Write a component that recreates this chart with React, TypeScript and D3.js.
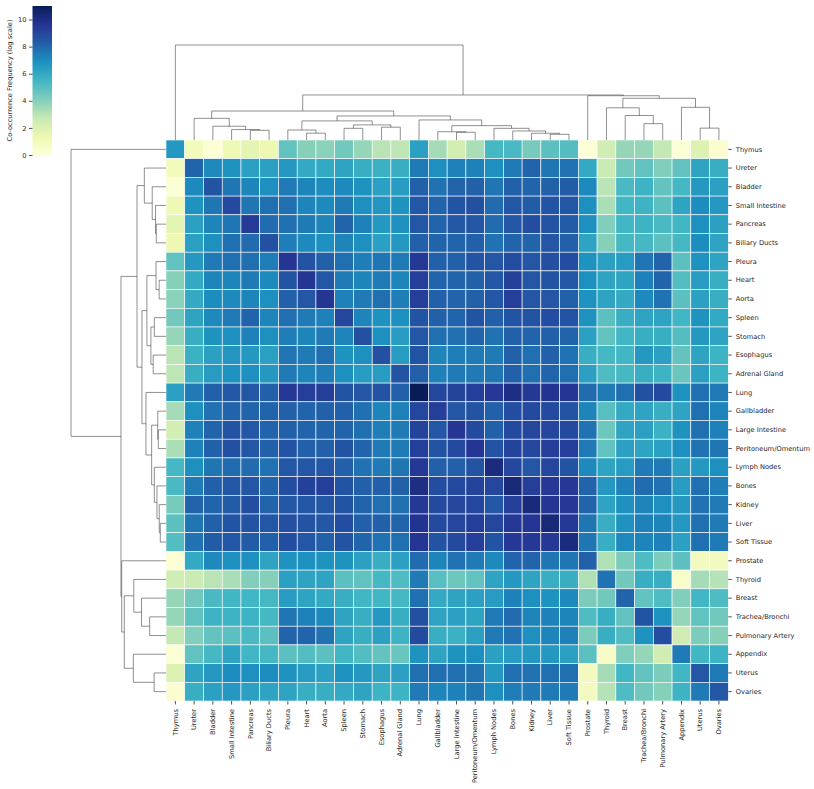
import { useRef, useEffect } from 'react';
import * as d3 from 'd3';

// leaf order after clustering (same for rows and columns)
const sites = [
  'Thymus', 'Ureter', 'Bladder', 'Small Intestine', 'Pancreas', 'Biliary Ducts',
  'Pleura', 'Heart', 'Aorta', 'Spleen', 'Stomach', 'Esophagus', 'Adrenal Gland',
  'Lung', 'Gallbladder', 'Large Intestine', 'Peritoneum/Omentum', 'Lymph Nodes',
  'Bones', 'Kidney', 'Liver', 'Soft Tissue', 'Prostate', 'Thyroid', 'Breast',
  'Trachea/Bronchi', 'Pulmonary Artery', 'Appendix', 'Uterus', 'Ovaries',
];

// log co-occurrence, upper triangle: row i holds columns i..29
const upper: number[][] = [
  [6.6, 1.0, 0.2, 1.2, 1.7, 1.3, 4.8, 4.0, 3.9, 4.4, 3.7, 3.0, 2.9, 6.3, 3.4, 2.3, 3.3, 5.4, 5.3, 4.3, 4.9, 5.1, 0.2, 2.4, 3.7, 3.7, 2.8, 0.2, 2.0, 0.3],
  [8.1, 7.1, 6.8, 6.3, 6.3, 6.6, 6.0, 6.0, 6.2, 5.8, 5.7, 5.8, 7.5, 6.9, 7.3, 7.3, 6.9, 7.5, 8.1, 7.6, 7.7, 6.0, 2.6, 4.4, 4.8, 4.1, 4.8, 6.2, 5.8],
  [8.6, 7.6, 7.2, 6.9, 7.5, 7.2, 7.0, 7.1, 6.8, 6.3, 6.5, 8.2, 7.7, 8.1, 8.2, 7.6, 8.2, 8.1, 8.2, 8.3, 7.1, 3.0, 5.3, 5.6, 4.7, 5.4, 6.6, 6.3],
  [8.9, 7.6, 7.8, 7.8, 7.2, 7.1, 7.5, 6.9, 6.7, 6.8, 8.5, 8.1, 8.6, 8.7, 7.9, 8.5, 8.3, 8.6, 8.5, 6.9, 3.3, 5.5, 5.6, 4.9, 6.2, 7.0, 6.6],
  [9.4, 7.9, 7.8, 7.5, 7.2, 8.1, 7.3, 6.6, 6.9, 8.5, 8.1, 8.5, 8.5, 7.9, 8.5, 8.8, 8.6, 8.3, 6.9, 4.1, 5.5, 5.6, 5.3, 5.5, 6.9, 6.3],
  [8.7, 7.4, 7.1, 6.9, 7.2, 6.9, 6.3, 6.6, 8.2, 8.1, 8.1, 8.2, 7.7, 8.1, 8.1, 8.5, 8.2, 6.2, 4.0, 5.4, 5.4, 4.9, 5.4, 7.0, 6.2],
  [9.6, 8.6, 8.2, 7.8, 7.4, 7.6, 7.5, 9.5, 8.2, 8.2, 8.6, 8.5, 8.8, 8.5, 8.7, 8.8, 6.8, 6.3, 6.5, 7.6, 8.1, 4.9, 6.8, 6.2],
  [9.6, 8.5, 7.5, 7.2, 7.5, 7.2, 9.3, 8.1, 8.1, 8.2, 8.5, 9.2, 8.5, 8.6, 8.5, 6.9, 6.2, 6.2, 7.3, 8.1, 5.1, 6.5, 5.8],
  [9.6, 7.3, 7.5, 7.8, 7.4, 9.3, 8.2, 8.1, 8.2, 8.5, 9.3, 8.5, 8.5, 8.2, 6.8, 6.2, 6.0, 7.1, 7.7, 4.9, 6.3, 5.8],
  [9.0, 7.2, 6.8, 6.9, 8.6, 8.2, 8.1, 8.6, 8.2, 8.6, 8.6, 8.8, 8.6, 6.8, 4.9, 5.8, 6.2, 6.2, 5.5, 6.8, 6.0],
  [8.7, 6.9, 6.5, 8.5, 7.8, 7.8, 8.1, 7.7, 8.2, 8.1, 8.2, 8.1, 6.3, 4.8, 5.5, 5.8, 5.8, 5.1, 6.6, 6.2],
  [8.7, 6.5, 8.6, 7.2, 7.4, 7.5, 7.5, 8.2, 7.8, 8.2, 7.7, 5.8, 5.4, 5.5, 6.6, 6.3, 4.7, 6.2, 5.6],
  [8.6, 8.2, 7.3, 7.5, 7.5, 7.6, 8.2, 7.8, 8.1, 7.8, 6.3, 5.2, 5.4, 5.8, 5.6, 4.6, 6.3, 5.6],
  [11.0, 9.0, 9.1, 9.3, 9.5, 10.0, 9.5, 9.7, 9.6, 7.9, 7.5, 7.8, 8.7, 8.9, 6.8, 7.8, 7.5],
  [9.3, 8.5, 8.6, 8.2, 8.8, 8.9, 8.9, 8.6, 7.2, 5.0, 6.0, 6.2, 5.8, 6.2, 7.8, 7.2],
  [9.6, 8.9, 8.2, 8.9, 9.0, 9.0, 8.9, 7.7, 4.5, 6.2, 6.3, 5.7, 6.8, 7.8, 7.3],
  [9.6, 8.6, 9.1, 9.0, 9.3, 9.3, 7.5, 4.8, 6.3, 6.2, 6.3, 6.9, 7.7, 7.6],
  [10.1, 9.0, 8.5, 9.0, 8.6, 7.1, 6.2, 6.5, 7.5, 7.5, 6.3, 6.6, 6.9],
  [10.3, 9.3, 9.5, 9.5, 8.1, 6.6, 7.3, 7.9, 7.7, 6.5, 7.8, 7.4],
  [10.2, 9.6, 9.5, 8.1, 6.2, 6.9, 7.2, 6.9, 6.6, 7.7, 7.5],
  [10.3, 9.5, 7.6, 5.8, 6.8, 7.3, 7.2, 6.6, 7.8, 7.5],
  [10.1, 7.6, 5.8, 7.1, 7.2, 7.3, 6.3, 7.8, 7.5],
  [8.2, 3.2, 4.2, 5.2, 4.2, 4.9, 0.9, 0.9],
  [7.7, 4.4, 5.8, 5.8, 0.6, 3.4, 3.1],
  [8.1, 4.8, 5.2, 4.1, 5.5, 5.2],
  [8.6, 6.8, 3.7, 4.8, 4.4],
  [8.8, 2.4, 4.2, 4.0],
  [7.5, 5.5, 5.6],
  [8.5, 7.5],
  [8.5],
];

// linkage: [left, right, distance, node id]
const links: [string, string, number, string][] = [
  ['Pancreas', 'Biliary Ducts', 1.02, 'u4'],
  ['Small Intestine', 'u4', 1.1, 'u3'],
  ['Bladder', 'u3', 1.45, 'u2'],
  ['Ureter', 'u2', 2.28, 'u1'],
  ['Heart', 'Aorta', 0.72, 'm1b'],
  ['Pleura', 'm1b', 1.05, 'm1'],
  ['Spleen', 'Stomach', 1.23, 'm2a'],
  ['Esophagus', 'Adrenal Gland', 1.35, 'm2b'],
  ['m2a', 'm2b', 1.59, 'm2'],
  ['m1', 'm2', 2.01, 'm'],
  ['Large Intestine', 'Peritoneum/Omentum', 0.81, 'n1a2'],
  ['Gallbladder', 'n1a2', 0.87, 'n1a'],
  ['Liver', 'Soft Tissue', 0.6, 'n1b4'],
  ['Kidney', 'n1b4', 0.71, 'n1b3'],
  ['Bones', 'n1b3', 0.95, 'n1b2'],
  ['Lymph Nodes', 'n1b2', 1.23, 'n1b'],
  ['n1a', 'n1b', 1.51, 'n1'],
  ['Lung', 'n1', 2.11, 'n'],
  ['m', 'n', 2.53, 'r'],
  ['u1', 'r', 3.05, 'l'],
  ['Trachea/Bronchi', 'Pulmonary Artery', 1.72, 'c1c'],
  ['Breast', 'c1c', 2.58, 'c1b'],
  ['Thyroid', 'c1b', 3.39, 'c1'],
  ['Uterus', 'Ovaries', 1.25, 'c2b'],
  ['Appendix', 'c2b', 3.44, 'c2'],
  ['c1', 'c2', 4.39, 'c'],
  ['Prostate', 'c', 4.66, 'b'],
  ['l', 'b', 4.74, 'a'],
  ['Thymus', 'a', 10.0, 'root'],
];

const cbTicks = [0, 2, 4, 6, 8, 10];
const cbLabel = 'Co-occurrence Frequency (log scale)';

export default function App() {
  const svgRef = useRef<SVGSVGElement>(null);

  useEffect(() => {
    if (!svgRef.current) return;
    const width = 814;
    const height = 789;
    const svg = d3.select(svgRef.current);
    svg.selectAll('*').remove();
    svg.attr('width', width).attr('height', height);

    const font = 'DejaVu Sans, sans-serif';
    const fontSize = 6.7;
    const ink = '#262626';
    const heat = { left: 166, top: 140, right: 728.3, bottom: 701 };
    const treeDepth = 95;

    const matrix = sites.map((_, i) =>
      sites.map((_, j) => (j >= i ? upper[i][j - i] : upper[j][i - j])),
    );
    const vmax = d3.max(matrix.flat()) as number;

    const x = d3.scaleBand<string>().domain(sites).range([heat.left, heat.right]);
    const y = d3.scaleBand<string>().domain(sites).range([heat.top, heat.bottom]);

    const palette = d3.schemeYlGnBu[9];
    const color = d3.scaleLinear<string>()
      .domain(palette.map((_, i) => (i / (palette.length - 1)) * vmax))
      .range(palette)
      .interpolate(d3.interpolateRgb)
      .clamp(true);

    // Heatmap cells
    const cells = sites.flatMap((r, i) => sites.map((c, j) => ({ r, c, v: matrix[i][j] })));
    svg.append('g')
      .selectAll('rect')
      .data(cells)
      .join('rect')
      .attr('x', (d) => x(d.c)!)
      .attr('y', (d) => y(d.r)!)
      .attr('width', x.bandwidth())
      .attr('height', y.bandwidth())
      .attr('fill', (d) => color(d.v))
      .attr('stroke', '#fff')
      .attr('stroke-width', 0.6);

    // Dendrograms
    const rootH = d3.max(links, (d) => d[2]) as number;
    const topH = d3.scaleLinear().domain([0, rootH]).range([heat.top, heat.top - treeDepth]);
    const leftH = d3.scaleLinear().domain([0, rootH]).range([heat.left, heat.left - treeDepth]);

    const colPos = new Map<string, { p: number; h: number }>();
    const rowPos = new Map<string, { p: number; h: number }>();
    sites.forEach((s) => {
      colPos.set(s, { p: x(s)! + x.bandwidth() / 2, h: 0 });
      rowPos.set(s, { p: y(s)! + y.bandwidth() / 2, h: 0 });
    });
    const topPaths: string[] = [];
    const leftPaths: string[] = [];
    links.forEach(([a, b, h, id]) => {
      const ca = colPos.get(a)!;
      const cb = colPos.get(b)!;
      topPaths.push(`M${ca.p},${topH(ca.h)}V${topH(h)}H${cb.p}V${topH(cb.h)}`);
      colPos.set(id, { p: (ca.p + cb.p) / 2, h });
      const ra = rowPos.get(a)!;
      const rb = rowPos.get(b)!;
      leftPaths.push(`M${leftH(ra.h)},${ra.p}H${leftH(h)}V${rb.p}H${leftH(rb.h)}`);
      rowPos.set(id, { p: (ra.p + rb.p) / 2, h });
    });
    svg.append('g')
      .selectAll('path')
      .data([...topPaths, ...leftPaths])
      .join('path')
      .attr('d', (d) => d)
      .attr('fill', 'none')
      .attr('stroke', '#333')
      .attr('stroke-width', 0.55);

    // Axes
    const styleAxis = (g: d3.Selection<SVGGElement, unknown, null, undefined>) => {
      g.attr('font-family', font).attr('font-size', fontSize);
      g.select('.domain').remove();
      g.selectAll('line').attr('stroke', ink).attr('stroke-width', 0.8);
      g.selectAll('text').attr('fill', ink);
    };

    svg.append('g')
      .attr('transform', `translate(${heat.right},0)`)
      .call(d3.axisRight(y).tickSize(3.5).tickPadding(4))
      .call(styleAxis);

    svg.append('g')
      .attr('transform', `translate(0,${heat.bottom})`)
      .call(d3.axisBottom(x).tickSize(3.5).tickPadding(4))
      .call(styleAxis)
      .selectAll('text')
      .attr('transform', 'rotate(-90)')
      .attr('text-anchor', 'end')
      .attr('x', -8)
      .attr('y', 0)
      .attr('dy', '0.32em');

    // Colorbar
    const cb = { x: 32.5, w: 19.5, top: 6, bottom: 155 };
    const cbScale = d3.scaleLinear().domain([0, vmax]).range([cb.bottom, cb.top]);
    const grad = svg.append('defs').append('linearGradient')
      .attr('id', 'cbar-grad')
      .attr('x1', '0').attr('y1', '1')
      .attr('x2', '0').attr('y2', '0');
    grad.selectAll('stop')
      .data(palette)
      .join('stop')
      .attr('offset', (_, i) => `${(i / (palette.length - 1)) * 100}%`)
      .attr('stop-color', (d) => d);
    svg.append('rect')
      .attr('x', cb.x)
      .attr('y', cb.top)
      .attr('width', cb.w)
      .attr('height', cb.bottom - cb.top)
      .attr('fill', 'url(#cbar-grad)');

    svg.append('g')
      .attr('transform', `translate(${cb.x},0)`)
      .call(d3.axisLeft(cbScale).tickValues(cbTicks).tickSize(3.5).tickPadding(2.5).tickFormat(d3.format('d')))
      .call(styleAxis);

    svg.append('text')
      .attr('transform', `translate(9.5,${(cb.top + cb.bottom) / 2}) rotate(-90)`)
      .attr('text-anchor', 'middle')
      .attr('dy', '0.32em')
      .attr('font-family', font)
      .attr('font-size', fontSize)
      .attr('fill', ink)
      .text(cbLabel);
  }, []);

  return <svg ref={svgRef} style={{ position: 'absolute', left: 0, top: 0, background: '#fff' }} />;
}
